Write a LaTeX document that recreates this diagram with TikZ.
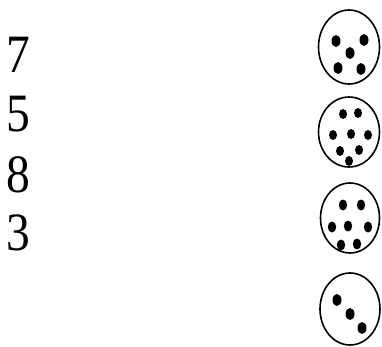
\documentclass[tikz,border=0pt]{standalone}
\usepackage{fontspec}
\setmainfont{Liberation Serif}
\usepackage{tikz}
\usetikzlibrary{positioning, shapes.geometric}

\begin{document}
\begin{tikzpicture}[x=1pt, y=-1pt,
    numeral/.style={anchor=base west, inner sep=0pt, xscale=0.88, transform shape,
                    font=\fontsize{54}{54}\selectfont},
    plate/.style={draw, line width=1.6pt},
    seed/.style={fill=black}]
  \useasboundingbox (0,0) rectangle (382,347);

  % numbers on the left
  \node[numeral] (n7) at (6,73) {7};
  \node[numeral] (n5) at (6,132) {5};
  \node[numeral] (n8) at (6,193) {8};
  \node[numeral] (n3) at (6,250) {3};

  % plates with seeds
  \draw[plate] (349,47) ellipse (30.5 and 37);
  \draw[plate] (349,132) ellipse (30.5 and 35);
  \draw[plate] (350,218) ellipse (29.5 and 35);
  \draw[plate] (350,309) ellipse (30 and 36);

  \foreach \x/\y in {336/41, 364/40, 350/53, 338/68, 361/69}
    \fill[seed] (\x,\y) ellipse (4.5 and 6);
  \foreach \x/\y in {343/114, 358/113, 333/135, 351/134, 368/135, 340/151, 359/150, 349/161}
    \fill[seed] (\x,\y) ellipse (4 and 5);
  \foreach \x/\y in {343/205, 361/205, 332/227, 348/226, 368/227, 341/245, 357/244}
    \fill[seed] (\x,\y) ellipse (4.2 and 5.5);
  \foreach \x/\y in {337/300, 350/314, 362/328}
    \fill[seed] (\x,\y) ellipse (4.5 and 6);
\end{tikzpicture}
\end{document}
